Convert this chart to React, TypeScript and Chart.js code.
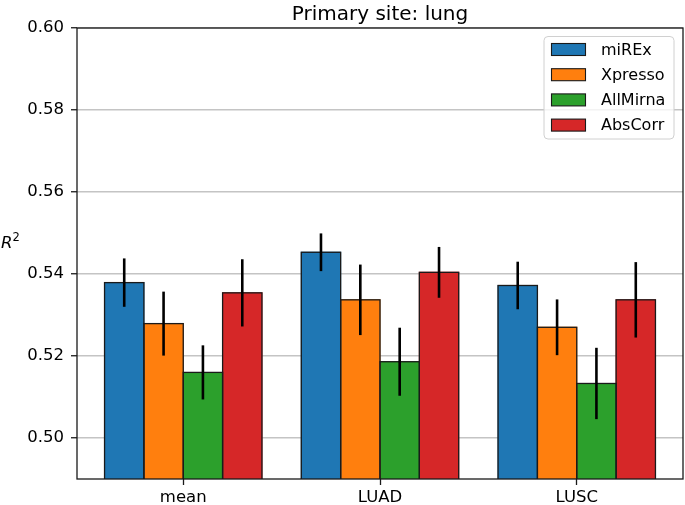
import React, { useEffect, useRef } from 'react';
import { Chart, registerables } from 'chart.js';

Chart.register(...registerables);

const titleText = 'Primary site: lung';
const categories = ['mean', 'LUAD', 'LUSC'];
const categoryPositions = [0, 1, 2];
const seriesNames = ['miREx', 'Xpresso', 'AllMirna', 'AbsCorr'];
const seriesColors = ['#1f77b4', '#ff7f0e', '#2ca02c', '#d62728'];

const miRExValues = [0.5379, 0.5453, 0.5372];
const miRExErrors = [0.0059, 0.0046, 0.0058];
const xpressoValues = [0.5279, 0.5337, 0.527];
const xpressoErrors = [0.0078, 0.0086, 0.0068];
const allMirnaValues = [0.516, 0.5186, 0.5133];
const allMirnaErrors = [0.0066, 0.0083, 0.0087];
const absCorrValues = [0.5354, 0.5404, 0.5337];
const absCorrErrors = [0.0082, 0.0062, 0.0092];

const yTicks = [0.5, 0.52, 0.54, 0.56, 0.58, 0.6];
const yMin = 0.49;
const yMax = 0.6;
const xMin = -0.54;
const xMax = 2.54;

const seriesValues = [miRExValues, xpressoValues, allMirnaValues, absCorrValues];
const seriesErrors = [miRExErrors, xpressoErrors, allMirnaErrors, absCorrErrors];

const FONT = '"DejaVu Sans", "Liberation Sans", sans-serif';

const decorPlugin = {
  id: 'decor',
  afterDatasetsDraw(chart: any) {
    const ctx = chart.ctx as CanvasRenderingContext2D;
    const { left, right, top, bottom } = chart.chartArea;
    const yS = chart.scales.y;
    ctx.save();
    ctx.beginPath();
    ctx.rect(left, top, right - left, bottom - top);
    ctx.clip();
    // bar edges (centered on the bar outline, like matplotlib)
    ctx.strokeStyle = '#1a1a1a';
    ctx.lineWidth = 1.3;
    chart.data.datasets.forEach((_ds: any, i: number) => {
      const meta = chart.getDatasetMeta(i);
      meta.data.forEach((bar: any) => {
        const p = bar.getProps(['x', 'y', 'base', 'width'], true);
        ctx.strokeRect(p.x - p.width / 2, p.y, p.width, p.base - p.y + 5);
      });
    });
    // error bars
    ctx.strokeStyle = '#000';
    ctx.lineWidth = 2.6;
    ctx.lineCap = 'butt';
    chart.data.datasets.forEach((_ds: any, i: number) => {
      const meta = chart.getDatasetMeta(i);
      meta.data.forEach((bar: any, j: number) => {
        const v = seriesValues[i][j];
        const e = seriesErrors[i][j];
        ctx.beginPath();
        ctx.moveTo(bar.x, yS.getPixelForValue(v - e));
        ctx.lineTo(bar.x, yS.getPixelForValue(v + e));
        ctx.stroke();
      });
    });
    ctx.restore();
    ctx.save();
    // spines
    ctx.strokeStyle = '#1a1a1a';
    ctx.lineWidth = 1.3;
    ctx.strokeRect(left, top, right - left, bottom - top);
    ctx.restore();
  },
  afterDraw(chart: any) {
    const ctx = chart.ctx as CanvasRenderingContext2D;
    const { left, right, top } = chart.chartArea;
    ctx.save();
    // title
    ctx.fillStyle = '#000';
    ctx.font = `20px ${FONT}`;
    ctx.textAlign = 'center';
    ctx.textBaseline = 'alphabetic';
    ctx.fillText(titleText, (left + right) / 2, top - 8.5);

    // y label R^2 (horizontal)
    ctx.textAlign = 'left';
    ctx.font = `italic 16.5px ${FONT}`;
    ctx.fillText('R', 1, 248);
    ctx.font = `11.5px ${FONT}`;
    ctx.fillText('2', 12.5, 241);

    // legend
    const boxRight = right - 9;
    const boxLeft = boxRight - 130;
    const boxTop = top + 8.5;
    const boxBottom = boxTop + 102.5;
    ctx.beginPath();
    const r = 4;
    if ((ctx as any).roundRect) {
      (ctx as any).roundRect(boxLeft, boxTop, boxRight - boxLeft, boxBottom - boxTop, r);
    } else {
      ctx.rect(boxLeft, boxTop, boxRight - boxLeft, boxBottom - boxTop);
    }
    ctx.fillStyle = 'rgba(255,255,255,0.8)';
    ctx.fill();
    ctx.strokeStyle = '#d0d0d0';
    ctx.lineWidth = 1;
    ctx.stroke();

    ctx.font = `16px ${FONT}`;
    ctx.textBaseline = 'middle';
    seriesNames.forEach((name, i) => {
      const cy = boxTop + 13 + i * 25.2;
      const sx = boxLeft + 7.5;
      ctx.fillStyle = seriesColors[i];
      ctx.fillRect(sx, cy - 6, 34, 12);
      ctx.strokeStyle = '#1a1a1a';
      ctx.lineWidth = 1.1;
      ctx.strokeRect(sx, cy - 6, 34, 12);
      ctx.fillStyle = '#000';
      ctx.fillText(name, boxLeft + 57, cy + 1);
    });
    ctx.restore();
  },
};

export default function App() {
  const canvasRef = useRef<HTMLCanvasElement | null>(null);

  useEffect(() => {
    document.body.style.margin = '0';
    const canvas = canvasRef.current;
    if (!canvas) return;
    Chart.defaults.font.family = FONT;
    const chart = new Chart(canvas, {
      type: 'bar',
      data: {
        datasets: seriesNames.map((name, i) => ({
          label: name,
          data: categoryPositions.map((x, j) => ({ x, y: seriesValues[i][j] })),
          backgroundColor: seriesColors[i],
          borderWidth: 0,
          inflateAmount: 0.5,
          categoryPercentage: 0.8,
          barPercentage: 1.0,
        })),
      },
      options: {
        animation: false,
        responsive: false,
        devicePixelRatio: 1,
        layout: { padding: { top: 28, right: 2, left: 0, bottom: 0 } },
        plugins: {
          legend: { display: false },
          title: { display: false },
          tooltip: { enabled: false },
        },
        scales: {
          x: {
            type: 'linear',
            min: xMin,
            max: xMax,
            offset: false,
            afterBuildTicks: (scale: any) => {
              scale.ticks = categoryPositions.map((v) => ({ value: v }));
            },
            afterFit: (scale: any) => {
              scale.height = 26;
            },
            ticks: {
              autoSkip: false,
              maxRotation: 0,
              padding: 3,
              color: '#000',
              font: { size: 16.5, family: FONT },
              callback: (_v: any, idx: number) => categories[idx],
            },
            grid: {
              offset: false,
              drawOnChartArea: false,
              drawTicks: true,
              tickLength: 6,
              tickColor: '#1a1a1a',
              tickWidth: 1.3,
            },
            border: { display: false },
          },
          y: {
            type: 'linear',
            min: yMin,
            max: yMax,
            afterBuildTicks: (scale: any) => {
              scale.ticks = yTicks.map((v) => ({ value: v }));
            },
            afterFit: (scale: any) => {
              scale.width = 77;
            },
            ticks: {
              padding: 7,
              color: '#000',
              font: { size: 16.5, family: FONT },
              callback: (v: any) => Number(v).toFixed(2),
            },
            grid: {
              color: '#c4c4c4',
              lineWidth: 1.5,
              drawTicks: true,
              tickLength: 6,
              tickColor: '#1a1a1a',
              tickWidth: 1.3,
            },
            border: { display: false },
          },
        },
      } as any,
      plugins: [decorPlugin],
    });
    return () => chart.destroy();
  }, []);

  return (
    <div style={{ width: 685, height: 505, position: 'relative', background: '#fff' }}>
      <canvas ref={canvasRef} width={685} height={505} style={{ display: 'block' }} />
    </div>
  );
}
